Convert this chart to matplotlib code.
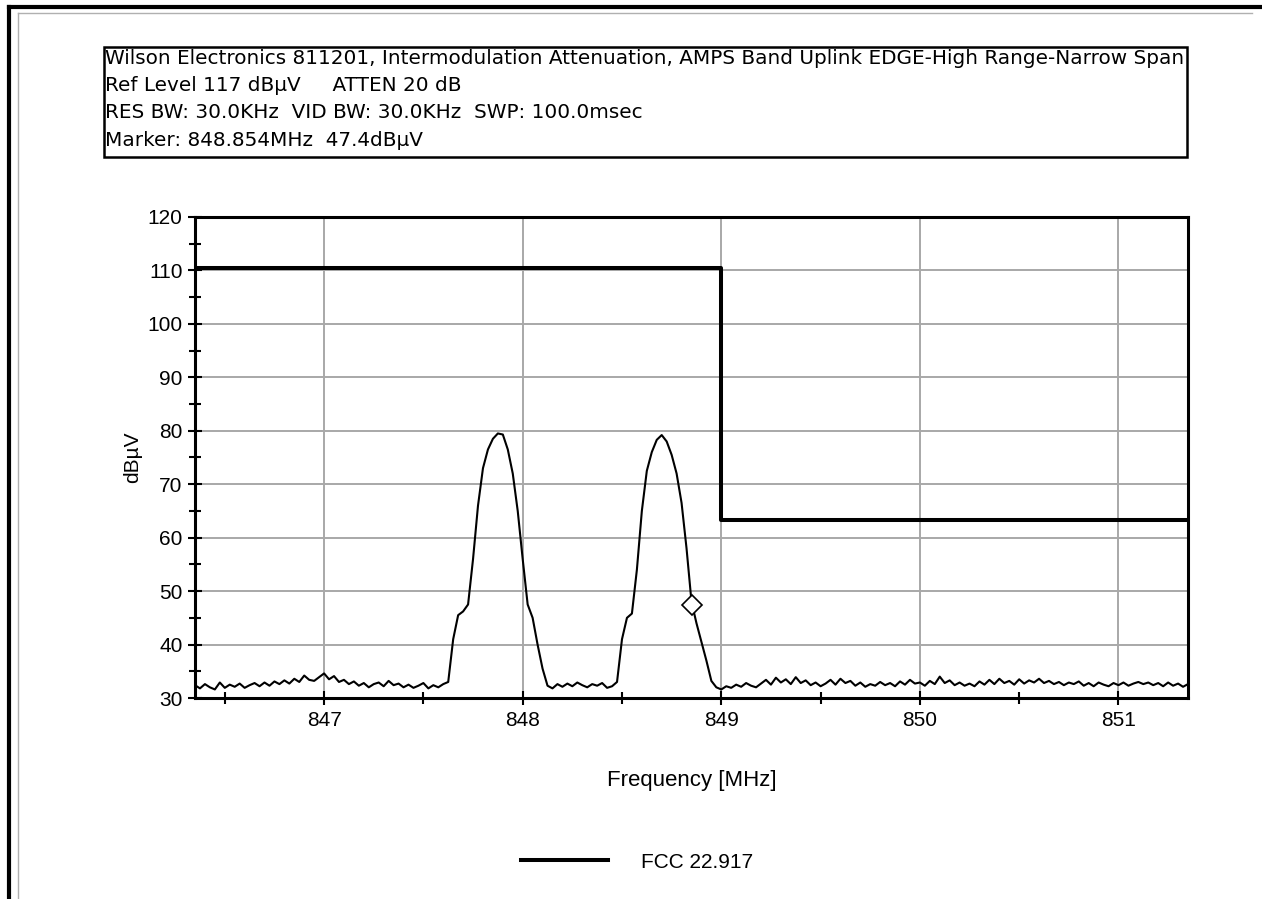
import numpy as np
import matplotlib
matplotlib.use("Agg")
import matplotlib.pyplot as plt
from matplotlib.lines import Line2D
from matplotlib.patches import Rectangle
from matplotlib.ticker import MultipleLocator
from matplotlib.font_manager import FontProperties

plt.rcParams['font.family'] = ['Liberation Sans', 'DejaVu Sans']
BODY = ['Liberation Sans', 'DejaVu Sans']
HEAD = ['DejaVu Sans']

# ---------------- data ----------------
header_lines = [
    "Wilson Electronics 811201, Intermodulation Attenuation, AMPS Band Uplink EDGE-High Range-Narrow Span",
    "Ref Level 117 dB\u00b5V     ATTEN 20 dB",
    "RES BW: 30.0KHz  VID BW: 30.0KHz  SWP: 100.0msec",
    "Marker: 848.854MHz  47.4dB\u00b5V",
]
x_label = "Frequency [MHz]"
y_label = "dB\u00b5V"
legend_label = "FCC 22.917"

x_min, x_max = 846.35, 851.35
y_min, y_max = 30, 120
x_ticks = [847, 848, 849, 850, 851]
y_ticks = [30, 40, 50, 60, 70, 80, 90, 100, 110, 120]

step = 0.025  # sweep point spacing (MHz)

seg1_start = 846.35
seg1_level = [32.4, 31.8, 32.6, 32.0, 31.6, 32.9, 31.9, 32.5, 32.1, 32.7,
              31.9, 32.4, 32.8, 32.2, 32.9, 32.3, 33.1, 32.6, 33.3, 32.7,
              33.6, 33.0, 34.2, 33.4, 33.2, 33.9, 34.6, 33.5, 34.1, 33.0,
              33.4, 32.6, 33.1, 32.3, 32.8, 32.0, 32.6, 32.9, 32.2, 33.2,
              32.4, 32.7, 32.0, 32.5, 31.9, 32.3, 32.8, 31.8, 32.4, 32.0,
              32.6]
seg2_start = 847.625
seg2_level = [33.0, 41.0, 45.5, 46.2, 47.5, 56.0, 66.0, 73.0, 76.5, 78.5,
              79.5, 79.3, 76.5, 72.0, 65.0, 56.0, 47.5, 45.0, 40.0, 35.5]
seg3_start = 848.125
seg3_level = [32.3, 31.8, 32.6, 32.1, 32.7, 32.2, 32.9, 32.4, 32.0, 32.6,
              32.3, 32.8, 31.9, 32.2]
seg4_start = 848.475
seg4_level = [33.0, 41.0, 45.0, 45.8, 54.0, 65.0, 72.5, 76.0, 78.3, 79.2,
              78.0, 75.5, 72.0, 66.5, 58.0, 48.0, 44.0, 40.5, 37.0, 33.2]
seg5_start = 848.975
seg5_level = [32.0, 31.6, 32.2, 31.9, 32.5, 32.1, 32.8, 32.3, 32.0, 32.7,
              33.4, 32.5, 33.8, 32.9, 33.5, 32.6, 33.9, 32.8, 33.3, 32.4,
              32.9, 32.2, 32.7, 33.4, 32.5, 33.6, 32.8, 33.2, 32.3, 32.9,
              32.1, 32.6, 32.3, 33.0, 32.4, 32.8, 32.2, 33.1, 32.5, 33.4,
              32.7, 32.9, 32.3, 33.2, 32.6, 34.0, 32.8, 33.3, 32.4, 32.9,
              32.3, 32.7, 32.2, 33.1, 32.5, 33.4, 32.6, 33.6, 32.8, 33.2,
              32.5, 33.5, 32.7, 33.3, 32.9, 33.6, 32.8, 33.2, 32.6, 33.0,
              32.4, 32.9, 32.6, 33.1, 32.3, 32.8, 32.2, 32.9, 32.5, 32.2,
              32.8, 32.4, 32.9, 32.3, 32.7, 33.0, 32.6, 32.9, 32.4, 32.8,
              32.2, 32.9, 32.3, 32.7, 32.1, 32.6]

limit_freq = [846.35, 849.0, 849.0, 851.35]
limit_level = [110.5, 110.5, 63.3, 63.3]

marker_freq = 848.854
marker_level = 47.4

# ---------------- build trace ----------------
segments = [(seg1_start, seg1_level), (seg2_start, seg2_level), (seg3_start, seg3_level),
            (seg4_start, seg4_level), (seg5_start, seg5_level)]
trace_f = np.concatenate([s + step * np.arange(len(v)) for s, v in segments])
trace_v = np.concatenate([np.asarray(v, float) for _, v in segments])

# ---------------- figure ----------------
W, H = 1262, 899
fig = plt.figure(figsize=(W / 100, H / 100), dpi=100)
fig.patch.set_facecolor('white')

def fx(px):
    return px / W

def fy(py):
    return 1 - py / H

# outer frame lines
fig.add_artist(Line2D([fx(9), fx(9)], [fy(7), 0], color='black', lw=3, transform=fig.transFigure))
fig.add_artist(Line2D([fx(9), 1], [fy(7), fy(7)], color='black', lw=3, transform=fig.transFigure))
fig.add_artist(Line2D([fx(18), fx(18)], [fy(13), 0], color='#b0b0b0', lw=1, transform=fig.transFigure))
fig.add_artist(Line2D([fx(18), fx(1252)], [fy(13), fy(13)], color='#b0b0b0', lw=1, transform=fig.transFigure))

# header box
fig.add_artist(Rectangle((fx(104), fy(157)), fx(1187) - fx(104), fy(47) - fy(157),
                         transform=fig.transFigure, fill=False, edgecolor='black', lw=1.8))
for i, line in enumerate(header_lines):
    fig.text(fx(105), fy(58 + i * 27.5), line, ha='left', va='center',
             fontproperties=FontProperties(family=HEAD, size=14.4), color='black')

# axes
ax = fig.add_axes([fx(195), fy(698), fx(1188) - fx(195), fy(217) - fy(698)])
ax.set_xlim(x_min, x_max)
ax.set_ylim(y_min, y_max)
ax.set_xticks(x_ticks)
ax.set_yticks(y_ticks)
ax.xaxis.set_minor_locator(MultipleLocator(0.5))
ax.yaxis.set_minor_locator(MultipleLocator(5))
ax.tick_params(axis='both', which='major', direction='inout', length=10, width=1.5,
               labelsize=15, top=False, right=False, pad=4)
ax.tick_params(axis='both', which='minor', direction='inout', length=8, width=1.5,
               top=False, right=False)
for lab in ax.get_xticklabels() + ax.get_yticklabels():
    lab.set_fontfamily(BODY)
ax.grid(True, which='major', color='#a8a8a8', lw=1.4)
ax.set_axisbelow(True)
for sp in ax.spines.values():
    sp.set_linewidth(2.2)
    sp.set_color('black')

ax.plot(trace_f, trace_v, color='black', lw=1.5, zorder=3)
lim_line, = ax.plot(limit_freq, limit_level, color='black', lw=2.9, zorder=4, label=legend_label)
ax.plot([marker_freq], [marker_level], marker='D', markersize=10, markerfacecolor='white',
        markeredgecolor='black', markeredgewidth=1.2, linestyle='none', zorder=5)

ax.set_xlabel(x_label, fontproperties=FontProperties(family=BODY, size=16), labelpad=29)
ax.set_ylabel(y_label, fontproperties=FontProperties(family=BODY, size=15), labelpad=4)

fig.legend(handles=[lim_line], labels=[legend_label], loc='center',
           bbox_to_anchor=(fx(637), fy(862)), frameon=False,
           prop=FontProperties(family=BODY, size=15),
           handlelength=4.2, handletextpad=1.6)

fig.savefig("out.png", dpi=100, facecolor='white')
